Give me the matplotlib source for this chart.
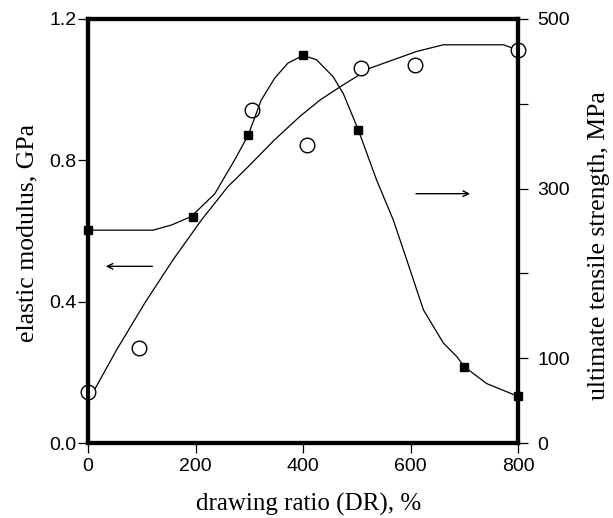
import matplotlib
matplotlib.use("Agg")
import matplotlib.pyplot as plt

# ---- data ----
mod_x = [0, 95, 305, 408, 508, 608, 800]
mod_y = [0.143, 0.27, 0.943, 0.843, 1.061, 1.07, 1.112]

uts_x = [0, 195, 298, 400, 503, 700, 800]
uts_y = [251, 267, 363, 457, 369, 90, 55]

# fitted curves
mod_cx = [10, 53, 106, 158, 211, 260, 298, 347, 394, 432, 469, 525, 611, 661, 773, 800]
mod_cy = [0.145, 0.263, 0.397, 0.518, 0.631, 0.725, 0.782, 0.858, 0.924, 0.971, 1.008,
          1.061, 1.108, 1.127, 1.127, 1.112]

uts_cx = [0, 121, 155, 192, 236, 273, 298, 322, 347, 372, 400, 425, 456, 475, 503, 537,
          568, 593, 624, 661, 686, 700, 742, 800]
uts_cy = [251, 251, 257, 267, 294, 334, 363, 404, 430, 448, 457, 452, 432, 412, 369, 310,
          263, 216, 157, 118, 102, 90, 70, 55]

x_ticks = [0, 200, 400, 600, 800]
left_ticks = [0.0, 0.4, 0.8, 1.2]
right_ticks = [0, 100, 200, 300, 400, 500]
right_labels = ["0", "100", "", "300", "", "500"]

serif = "Liberation Serif"
sans = "Liberation Sans"

fig = plt.figure(figsize=(6.13, 5.18), dpi=100)
ax = fig.add_axes([88 / 613, 75 / 518, 430 / 613, 424 / 518])
ax2 = ax.twinx()

ax.plot(mod_cx, mod_cy, color="black", lw=0.9, zorder=2)
ax.plot(mod_x, mod_y, linestyle="none", marker="o", markersize=10.5, markerfacecolor="white",
        markeredgecolor="black", markeredgewidth=1.0, clip_on=False, zorder=3)

ax2.plot(uts_cx, uts_cy, color="black", lw=0.9, zorder=2)
ax2.plot(uts_x, uts_y, linestyle="none", marker="s", markersize=5.6, color="black",
         clip_on=False, zorder=3)

ax.set_xlim(0, 800)
ax.set_ylim(0, 1.2)
ax2.set_ylim(0, 500)

ax.set_xticks(x_ticks)
ax.set_xticklabels([str(v) for v in x_ticks])
ax.set_yticks(left_ticks)
ax.set_yticklabels([f"{v:.1f}" for v in left_ticks])
ax2.set_yticks(right_ticks)
ax2.set_yticklabels(right_labels)

for a in (ax, ax2):
    for s in a.spines.values():
        s.set_linewidth(3.0)
    a.tick_params(direction="out", length=7, width=0.9, labelsize=14)
    for lab in a.get_xticklabels() + a.get_yticklabels():
        lab.set_fontfamily(sans)
ax.tick_params(axis="x", pad=4)
ax.tick_params(axis="y", pad=1.5)
ax2.tick_params(axis="y", pad=7)

ax.set_xlabel("drawing ratio (DR), %", fontfamily=serif, fontsize=18)
ax.set_ylabel("elastic modulus, GPa", fontfamily=serif, fontsize=18.5)
ax2.set_ylabel("ultimate tensile strength, MPa", fontfamily=serif, fontsize=18.5)
ax.xaxis.set_label_coords(0.512, -0.118)
ax.yaxis.set_label_coords(-0.116, 0.495)
ax2.yaxis.set_label_coords(1.163, 0.465)

# arrows indicating axes
ax.annotate("", xy=(28, 0.50), xytext=(125, 0.50),
            arrowprops=dict(arrowstyle="->", color="black", lw=1.0))
ax2.annotate("", xy=(716, 294), xytext=(605, 294),
             arrowprops=dict(arrowstyle="->", color="black", lw=1.0))

fig.savefig("out.png", dpi=100)
